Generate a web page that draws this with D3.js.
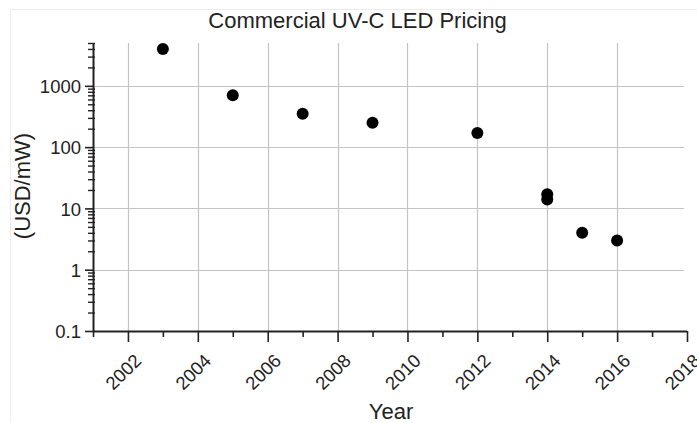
<!DOCTYPE html>
<html>
<head>
<meta charset="utf-8">
<script src="https://cdn.jsdelivr.net/npm/d3@7/dist/d3.min.js"></script>
<style>
html,body{margin:0;padding:0;background:#fff;}
svg{display:block;font-family:"Liberation Sans",Arial,sans-serif;}
</style>
</head>
<body>
<svg id="chart" width="697" height="423"></svg>
<script>
const title = "Commercial UV-C LED Pricing";
const xLabel = "Year";
const yLabel = "(USD/mW)";
const years = [2003, 2005, 2007, 2009, 2012, 2014, 2014, 2015, 2016];
const prices = [4000, 700, 350, 250, 170, 17, 14, 4, 3];
const xTickLabels = [2002, 2004, 2006, 2008, 2010, 2012, 2014, 2016, 2018];
const yTickLabels = [0.1, 1, 10, 100, 1000];

const svg = d3.select("#chart");
const pL = 93, pR = 687, pT = 43, pB = 331;

const x = d3.scaleLinear().domain([2001, 2018]).range([pL, pR]);
const y = d3.scaleLog().domain([0.1, 5000]).range([pB, pT]);

// faint outer border
svg.append("rect").attr("x", 10.5).attr("y", 9.5).attr("width", 700).attr("height", 420)
  .attr("fill", "none").attr("stroke", "#ececec").attr("stroke-width", 1);

// gridlines
const grid = svg.append("g");
grid.selectAll("line.v").data(xTickLabels.filter(d => d < 2018)).enter().append("line")
  .attr("x1", d => Math.round(x(d)) + 0.5).attr("x2", d => Math.round(x(d)) + 0.5)
  .attr("y1", pT).attr("y2", pB)
  .attr("stroke", "#c4c4c4").attr("stroke-width", 1.2);
grid.selectAll("line.h").data(yTickLabels.filter(d => d > 0.1)).enter().append("line")
  .attr("x1", pL).attr("x2", pR - 3)
  .attr("y1", d => Math.round(y(d)) + 0.5).attr("y2", d => Math.round(y(d)) + 0.5)
  .attr("stroke", "#c4c4c4").attr("stroke-width", 1.2);

// X axis
const xMinor = d3.range(2001, 2019).filter(d => xTickLabels.indexOf(d) < 0);
const xAxisMinor = d3.axisBottom(x).tickValues(xMinor).tickSize(6).tickFormat("");
const xAxis = d3.axisBottom(x).tickValues(xTickLabels).tickSize(11).tickFormat(d3.format("d"));
const gxm = svg.append("g").attr("transform", `translate(0,${pB})`).call(xAxisMinor);
const gx = svg.append("g").attr("transform", `translate(0,${pB})`).call(xAxis);
[gx, gxm].forEach(g => {
  g.select(".domain").attr("stroke", "#222").attr("stroke-width", 2);
  g.selectAll(".tick line").attr("stroke", "#222").attr("stroke-width", 1.6);
});
gxm.select(".domain").remove();
gx.select(".domain").attr("d", `M${pL},0.5H${pR}`);
gx.selectAll(".tick text")
  .attr("font-size", 18.5).attr("fill", "#222")
  .attr("text-anchor", "end")
  .attr("y", 0).attr("dy", 0)
  .attr("transform", "translate(14,31) rotate(-45)");

// Y axis
const yMinorVals = [];
[0.1, 1, 10, 100, 1000].forEach(dec => { for (let k = 2; k <= 9; k++) { const v = dec * k; if (v <= 5000) yMinorVals.push(v); } });
const yAxisMinor = d3.axisLeft(y).tickValues(yMinorVals).tickSize(5).tickFormat("");
const yAxis = d3.axisLeft(y).tickValues(yTickLabels).tickSize(8).tickFormat(d => d < 1 ? "0.1" : d3.format("d")(d));
const gym = svg.append("g").attr("transform", `translate(${pL},0)`).call(yAxisMinor);
const gy = svg.append("g").attr("transform", `translate(${pL},0)`).call(yAxis);
gym.select(".domain").remove();
gym.selectAll(".tick line").attr("stroke", "#222").attr("stroke-width", 1.4).attr("x2", -5).attr("x1", 2);
gy.select(".domain").attr("stroke", "#222").attr("stroke-width", 2).attr("d", `M0.5,${pB}V${pT}`);
gy.selectAll(".tick line").attr("stroke", "#222").attr("stroke-width", 1.6);
gy.selectAll(".tick text").attr("font-size", 18.5).attr("fill", "#222").attr("x", -12).attr("dy", "0.36em");

// points
svg.append("g").selectAll("circle").data(years.map((d, i) => [d, prices[i]])).enter().append("circle")
  .attr("cx", d => x(d[0])).attr("cy", d => y(d[1])).attr("r", 6).attr("fill", "#000");

// title and labels
svg.append("text").attr("x", 357.5).attr("y", 28).attr("text-anchor", "middle")
  .attr("font-size", 22).attr("fill", "#222").text(title);
svg.append("text").attr("x", 391).attr("y", 419).attr("text-anchor", "middle")
  .attr("font-size", 22).attr("fill", "#222").text(xLabel);
svg.append("text").attr("transform", "translate(30,186) rotate(-90)").attr("text-anchor", "middle")
  .attr("font-size", 22).attr("fill", "#222").text(yLabel);
</script>
</body>
</html>
